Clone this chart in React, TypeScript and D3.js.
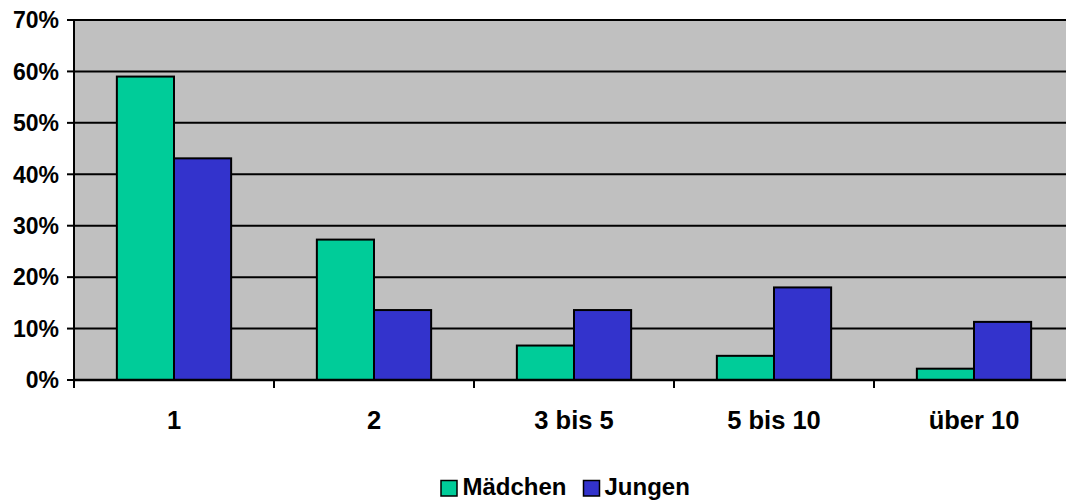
import React from "react";
import * as d3 from "d3";

const categories = ["1", "2", "3 bis 5", "5 bis 10", "über 10"];
const seriesNames = ["Mädchen", "Jungen"];
const maedchen = [59.0, 27.3, 6.7, 4.7, 2.2];
const jungen = [43.1, 13.6, 13.6, 18.0, 11.3];
const yTicks = [0, 10, 20, 30, 40, 50, 60, 70];
const colors = ["#00CC99", "#3333CC"];

export default function App() {
  const W = 1066, H = 503;
  const left = 74, right = 1074, top = 20, bottom = 380;
  const x = d3.scaleBand<string>().domain(categories).range([left, right]).paddingInner(0).paddingOuter(0);
  const inner = d3.scaleBand<string>().domain(seriesNames).range([0, x.bandwidth()]).paddingInner(0).paddingOuter(0.75);
  const y = d3.scaleLinear().domain([0, 70]).range([bottom, top]);
  const series = [maedchen, jungen];
  const font = "'Liberation Sans', Arial, sans-serif";
  return (
    <svg width={W} height={H} style={{ position: "absolute", left: 0, top: 0, background: "#fff" }}>
      <rect x={left} y={top} width={right - left} height={bottom - top} fill="#C0C0C0" stroke="#808080" strokeWidth={1.5} />
      {yTicks.map((t) => (
        <g key={t}>
          {t > 0 && <line x1={left} x2={right} y1={y(t)} y2={y(t)} stroke="#000" strokeWidth={2} />}
          <line x1={left - 7} x2={left} y1={y(t)} y2={y(t)} stroke="#000" strokeWidth={2} />
          <text x={59} y={y(t) + 8.3} textAnchor="end" fontFamily={font} fontWeight="bold" fontSize={23}>{t}%</text>
        </g>
      ))}
      {categories.map((c, i) =>
        series.map((s, j) => {
          const bx = (x(c) as number) + (inner(seriesNames[j]) as number);
          return (
            <rect key={c + j} x={bx} y={y(s[i])} width={inner.bandwidth()} height={bottom - y(s[i])}
              fill={colors[j]} stroke="#000" strokeWidth={2} />
          );
        })
      )}
      <line x1={left} x2={left} y1={top} y2={bottom} stroke="#000" strokeWidth={2} />
      <line x1={left} x2={right} y1={bottom} y2={bottom} stroke="#000" strokeWidth={2.5} />
      {categories.map((c, i) => (
        <g key={c}>
          <line x1={x(c) as number} x2={x(c) as number} y1={bottom} y2={bottom + 8} stroke="#000" strokeWidth={2} />
          <text x={(x(c) as number) + x.bandwidth() / 2} y={428.5} textAnchor="middle" fontFamily={font} fontWeight="bold" fontSize={25.5}>{c}</text>
        </g>
      ))}
      <g>
        <rect x={441} y={480.5} width={16} height={15.5} fill={colors[0]} stroke="#000" strokeWidth={1.5} />
        <text x={462.5} y={495} fontFamily={font} fontWeight="bold" fontSize={24}>{seriesNames[0]}</text>
        <rect x={583.5} y={480.5} width={16} height={15.5} fill={colors[1]} stroke="#000" strokeWidth={1.5} />
        <text x={604.5} y={495} fontFamily={font} fontWeight="bold" fontSize={24}>{seriesNames[1]}</text>
      </g>
    </svg>
  );
}
